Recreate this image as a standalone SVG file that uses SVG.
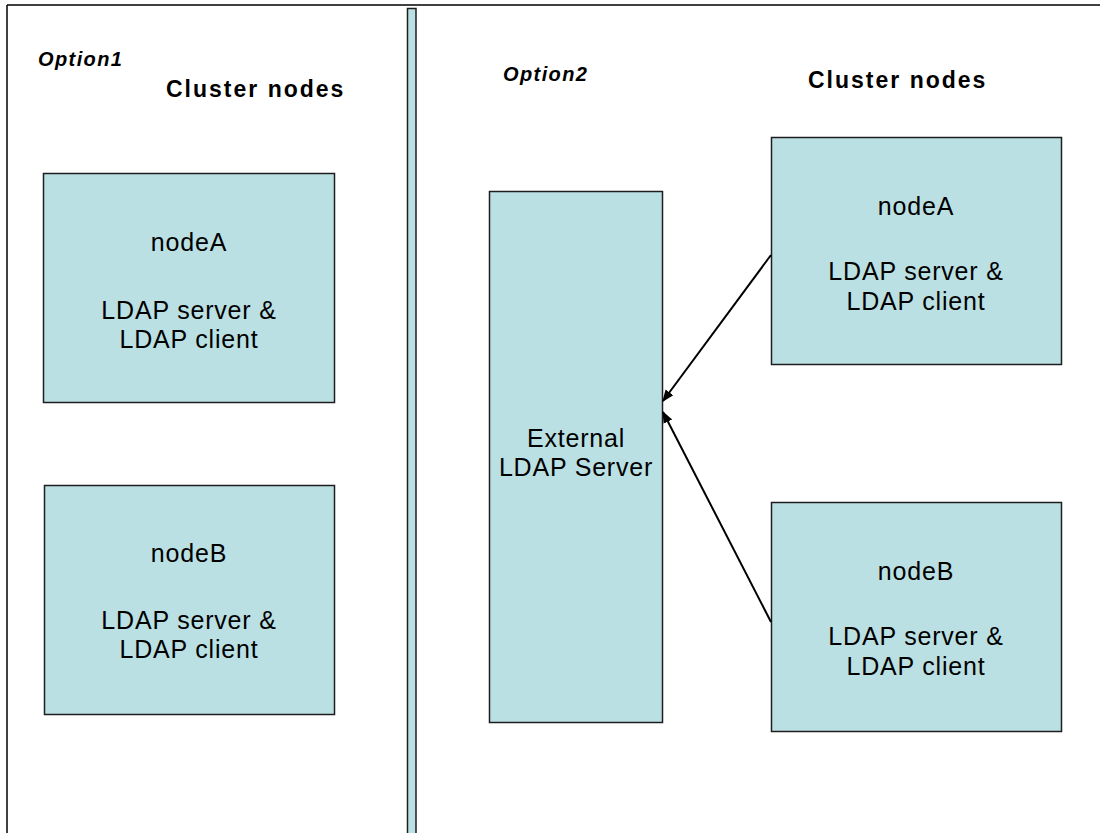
<svg xmlns="http://www.w3.org/2000/svg" width="1100" height="833" viewBox="0 0 1100 833">
<style>
.box{fill:#bbe0e3;stroke:#1e1e1e;stroke-width:1.5}
.t{font-family:"Liberation Sans",Arial,sans-serif;font-size:25px;letter-spacing:0.8px;fill:#000;text-anchor:middle}
.h{font-family:"Liberation Sans",Arial,sans-serif;font-size:23px;letter-spacing:2px;font-weight:bold;fill:#000}
.o{font-family:"Liberation Sans",Arial,sans-serif;font-size:20px;letter-spacing:1.4px;font-weight:bold;font-style:italic;fill:#000}
.c{stroke:#000;stroke-width:2;fill:none;marker-end:url(#ah)}
</style>
<defs>
<marker id="ah" viewBox="0 0 10 10" refX="9" refY="5" markerWidth="6" markerHeight="6" orient="auto" markerUnits="strokeWidth">
<path d="M0,1 L10,5 L0,9 z" fill="#000"/>
</marker>
</defs>
<rect width="1100" height="833" fill="#fff"/>
<g id="frame">
<line x1="7" y1="5" x2="1100" y2="5" stroke="#000" stroke-width="1.5"/>
<line x1="7" y1="5" x2="7" y2="833" stroke="#000" stroke-width="1.5"/>
<rect x="407.5" y="8.5" width="8.5" height="830" class="box"/>
</g>
<g id="labels">
<text x="38" y="66" class="o">Option1</text>
<text x="166" y="97" class="h">Cluster nodes</text>
<text x="503" y="81" class="o">Option2</text>
<text x="808" y="88" class="h">Cluster nodes</text>
</g>
<g id="left-nodeA">
<rect x="43.5" y="173.5" width="291" height="229" class="box"/>
<text x="189" y="251" class="t">nodeA</text>
<text x="189" y="319" class="t">LDAP server &amp;</text>
<text x="189" y="348" class="t">LDAP client</text>
</g>
<g id="left-nodeB">
<rect x="44.5" y="485.5" width="290" height="229" class="box"/>
<text x="189" y="562" class="t">nodeB</text>
<text x="189" y="629" class="t">LDAP server &amp;</text>
<text x="189" y="658" class="t">LDAP client</text>
</g>
<g id="external">
<rect x="489.5" y="191.5" width="173" height="531" class="box"/>
<text x="576" y="447" class="t">External</text>
<text x="576" y="476" class="t">LDAP Server</text>
</g>
<g id="right-nodeA">
<rect x="771.5" y="137.5" width="290" height="227" class="box"/>
<text x="916" y="215" class="t">nodeA</text>
<text x="916" y="280" class="t">LDAP server &amp;</text>
<text x="916" y="310" class="t">LDAP client</text>
</g>
<g id="right-nodeB">
<rect x="771.5" y="502.5" width="290" height="229" class="box"/>
<text x="916" y="580" class="t">nodeB</text>
<text x="916" y="645" class="t">LDAP server &amp;</text>
<text x="916" y="675" class="t">LDAP client</text>
</g>
<g id="connectors">
<line x1="771" y1="255" x2="663" y2="401" class="c"/>
<line x1="771" y1="622" x2="663" y2="412" class="c"/>
</g>
</svg>
